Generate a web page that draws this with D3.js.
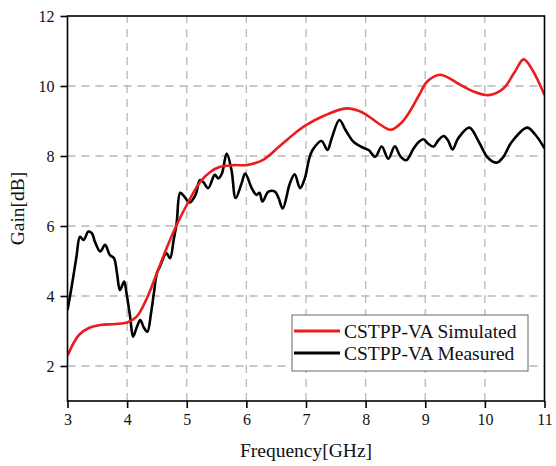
<!DOCTYPE html>
<html>
<head>
<meta charset="utf-8">
<script src="https://cdn.jsdelivr.net/npm/d3@7"></script>
<style>
  body { margin: 0; background: #fff; }
  text { font-family: "Liberation Serif", "Times New Roman", serif; fill: #111; }
</style>
</head>
<body>
<div id="chart"></div>
<script>
const width = 556;
const height = 466;

// simulated gain (GHz, dB)
const simFreq = [3.0, 3.1, 3.2, 3.35, 3.55, 3.8, 4.0, 4.16, 4.33, 4.5, 4.66, 4.83, 5.0, 5.22, 5.4, 5.56, 5.8, 6.0, 6.28, 6.57, 6.85, 7.0, 7.3, 7.68, 7.9, 8.02, 8.2, 8.42, 8.6, 8.74, 8.9, 9.03, 9.25, 9.59, 9.8, 10.06, 10.31, 10.5, 10.65, 10.8, 11.0];
const simGain = [2.29, 2.65, 2.9, 3.08, 3.17, 3.2, 3.24, 3.41, 3.93, 4.66, 5.36, 6.03, 6.6, 7.25, 7.55, 7.69, 7.74, 7.74, 7.89, 8.3, 8.7, 8.88, 9.15, 9.36, 9.28, 9.17, 8.95, 8.75, 8.95, 9.27, 9.75, 10.12, 10.32, 10.03, 9.85, 9.74, 9.93, 10.4, 10.76, 10.45, 9.74];

// measured gain (GHz, dB)
const measFreq = [3.0, 3.07, 3.15, 3.21, 3.27, 3.35, 3.41, 3.46, 3.55, 3.63, 3.71, 3.78, 3.83, 3.88, 3.95, 3.99, 4.05, 4.1, 4.16, 4.22, 4.28, 4.34, 4.4, 4.45, 4.5, 4.55, 4.66, 4.72, 4.78, 4.83, 4.89, 4.95, 5.05, 5.15, 5.22, 5.28, 5.36, 5.47, 5.53, 5.59, 5.67, 5.75, 5.82, 5.92, 5.98, 6.09, 6.17, 6.22, 6.27, 6.37, 6.48, 6.54, 6.61, 6.73, 6.81, 6.9, 6.98, 7.05, 7.11, 7.26, 7.36, 7.43, 7.56, 7.67, 7.8, 7.94, 8.05, 8.16, 8.27, 8.38, 8.49, 8.58, 8.68, 8.8, 8.89, 8.97, 9.05, 9.14, 9.22, 9.31, 9.38, 9.46, 9.55, 9.74, 9.9, 10.05, 10.2, 10.3, 10.45, 10.71, 10.85, 11.0];
const measGain = [3.6, 4.27, 5.12, 5.69, 5.6, 5.84, 5.79, 5.55, 5.27, 5.46, 5.17, 5.08, 4.65, 4.17, 4.41, 4.08, 3.41, 2.84, 3.1, 3.31, 3.1, 2.98, 3.5, 4.1, 4.65, 4.84, 5.22, 5.08, 5.6, 6.08, 6.95, 6.86, 6.67, 6.9, 7.31, 7.25, 7.08, 7.46, 7.36, 7.5, 8.07, 7.6, 6.8, 7.22, 7.5, 7.08, 6.89, 6.95, 6.7, 6.98, 6.98, 6.8, 6.5, 7.22, 7.48, 7.08, 7.36, 7.9, 8.17, 8.43, 8.17, 8.5, 9.03, 8.72, 8.4, 8.25, 8.17, 7.98, 8.27, 7.92, 8.28, 8.0, 7.88, 8.2, 8.4, 8.48, 8.35, 8.27, 8.45, 8.57, 8.45, 8.19, 8.5, 8.81, 8.4, 7.95, 7.81, 7.95, 8.4, 8.81, 8.6, 8.22];

const xTicks = [3, 4, 5, 6, 7, 8, 9, 10, 11];
const yTicks = [2, 4, 6, 8, 10, 12];
const legendLabels = ['CSTPP-VA Simulated', 'CSTPP-VA Measured'];
const colors = ['#ec1c1c', '#000000'];

const margin = {left: 67.5, right: 11.5, top: 16, bottom: 65};

const svg = d3.select('#chart').append('svg')
  .attr('width', width)
  .attr('height', height);

const x = d3.scaleLinear().domain([3, 11]).range([margin.left, width - margin.right]);
const y = d3.scaleLinear().domain([1, 12]).range([height - margin.bottom, margin.top]);

// grid
const grid = svg.append('g')
  .attr('stroke', '#b8b8b8')
  .attr('stroke-width', 1.3)
  .attr('stroke-dasharray', '8,6');
grid.selectAll('line.gx')
  .data(xTicks.slice(1, -1))
  .join('line')
  .attr('x1', d => x(d)).attr('x2', d => x(d))
  .attr('y1', y(1)).attr('y2', y(12));
grid.selectAll('line.gy')
  .data(yTicks.slice(0, -1))
  .join('line')
  .attr('class', 'gy')
  .attr('x1', x(3)).attr('x2', x(11))
  .attr('y1', d => y(d)).attr('y2', d => y(d));

// axes
const xAxis = svg.append('g')
  .attr('transform', `translate(0,${y(1)})`)
  .call(d3.axisBottom(x).tickValues(xTicks).tickSize(7).tickPadding(6).tickFormat(d3.format('d')));
const yAxis = svg.append('g')
  .attr('transform', `translate(${x(3)},0)`)
  .call(d3.axisLeft(y).tickValues(yTicks).tickSize(7).tickPadding(6).tickFormat(d3.format('d')));
[xAxis, yAxis].forEach(a => {
  a.select('.domain').remove();
  a.selectAll('.tick line').attr('stroke', '#000').attr('stroke-width', 1.6);
  a.selectAll('.tick text')
    .style('font-family', '"Liberation Serif", serif')
    .style('font-size', '16px')
    .attr('fill', '#111');
});

// lines
const line = d3.line()
  .x(d => x(d[0]))
  .y(d => y(d[1]))
  .curve(d3.curveCatmullRom.alpha(0.5));

const series = [
  d3.zip(simFreq, simGain),
  d3.zip(measFreq, measGain)
];

svg.append('defs').append('clipPath').attr('id', 'clip')
  .append('rect')
  .attr('x', x(3)).attr('y', y(12))
  .attr('width', x(11) - x(3)).attr('height', y(1) - y(12));

svg.append('g').attr('clip-path', 'url(#clip)')
  .selectAll('path')
  .data(series.slice().reverse())
  .join('path')
  .attr('d', line)
  .attr('fill', 'none')
  .attr('stroke', (d, i) => colors[1 - i])
  .attr('stroke-width', 2.6)
  .attr('stroke-linejoin', 'round');

// frame
svg.append('rect')
  .attr('x', x(3)).attr('y', y(12))
  .attr('width', x(11) - x(3)).attr('height', y(1) - y(12))
  .attr('fill', 'none')
  .attr('stroke', '#000')
  .attr('stroke-width', 1.6);

// legend
const legend = svg.append('g');
legend.append('rect')
  .attr('x', 292).attr('y', 315)
  .attr('width', 236).attr('height', 56)
  .attr('fill', '#fff')
  .attr('stroke', '#666')
  .attr('stroke-width', 1);
const rows = legend.selectAll('g.row')
  .data(legendLabels)
  .join('g')
  .attr('transform', (d, i) => `translate(0,${331 + i * 22})`);
rows.append('line')
  .attr('x1', 294).attr('x2', 340)
  .attr('stroke', (d, i) => colors[i])
  .attr('stroke-width', 2.8);
rows.append('text')
  .attr('x', 344).attr('y', 7)
  .style('font-size', '19.5px')
  .text(d => d);

// titles
svg.append('text')
  .attr('x', (x(3) + x(11)) / 2)
  .attr('y', 457)
  .attr('text-anchor', 'middle')
  .style('font-size', '19.5px')
  .text('Frequency[GHz]');
svg.append('text')
  .attr('transform', `translate(24,${(y(1) + y(12)) / 2}) rotate(-90)`)
  .attr('text-anchor', 'middle')
  .style('font-size', '19.5px')
  .text('Gain[dB]');
</script>
</body>
</html>
